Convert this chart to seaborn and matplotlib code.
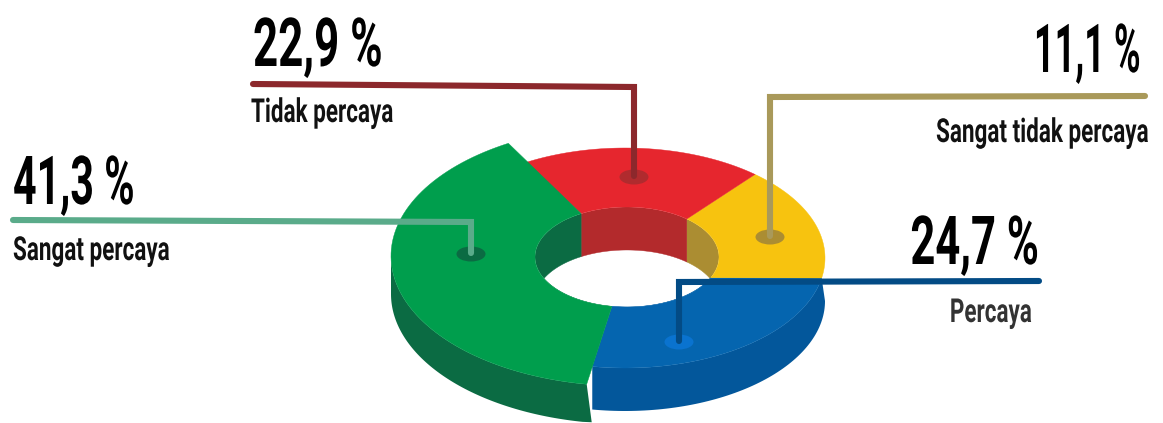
"""Exploded 3D donut: trust shares with leader lines."""

import matplotlib

matplotlib.use("agg")
import matplotlib.patheffects as pe
import matplotlib.pyplot as plt
import numpy as np
import pandas as pd
import seaborn as sns
from matplotlib.patches import Ellipse, Polygon
from matplotlib.transforms import Affine2D

# counter-clockwise from the yellow/blue seam
CATEGORIES = ["Sangat tidak percaya", "Tidak percaya", "Sangat percaya", "Percaya"]
SHARES = [11.1, 22.9, 41.3, 24.7]
VALUE_LABELS = ["11,1 %", "22,9 %", "41,3 %", "24,7 %"]

TOP_COLORS = ["#f7c30f", "#e6262e", "#009e4d", "#0565af"]
WALL_COLORS = ["#ab8d32", "#b32a2c", "#0b6b43", "#03579b"]
LINE_COLORS = ["#a9995a", "#8c282c", "#5aab8a", "#034b85"]
DOT_COLORS = ["#ab8d32", "#b02b2e", "#0b6b43", "#0a73cf"]

# the artwork's hand-drawn seams, in degrees off the true share angle
OUTER_NUDGE = [0, 20, 8, 0, 0]
INNER_NUDGE = [-14, 20, 8, 0, -14]
START_ANGLE = -10.5

OUTER = (625, 258, 200, 110)
GREEN_OUTER = (625, 256, 234, 130)
INNER = (627, 257, 92, 50)
DEPTH = 43
GREEN_DEPTH = 38

# leader polylines and where the labels go, same order as CATEGORIES
LEADER_X = [[1145, 770, 770], [253, 634, 634], [13, 471, 471], [1039, 679, 679]]
LEADER_Y = [[96, 97, 236], [84, 87, 176], [220, 222, 253], [281, 282, 341]]
VALUE_POS = [(1142, 72), (253, 66), (13, 204), (1040, 264)]
VALUE_HA = ["right", "left", "left", "right"]
VALUE_SQUEEZE = [0.535, 0.65, 0.61, 0.645]
LABEL_POS = [(1148, 142), (251, 122), (13, 260), (1032, 322)]
LABEL_HA = ["right", "left", "left", "right"]
LABEL_COLORS = ["#111111", "#111111", "#111111", "#333333"]


class Squeeze(pe.AbstractPathEffect):
    """Condense glyphs sideways, no ultra-condensed font is installed."""

    def __init__(self, sx, ha="left"):
        super().__init__()
        self.sx = sx
        self.ha = ha

    def draw_path(self, renderer, gc, tpath, affine, rgbFace=None):
        pivot = tpath.get_extents().x1 if self.ha == "right" else 0
        squeeze = Affine2D().translate(-pivot, 0).scale(self.sx, 1).translate(pivot, 0)
        renderer.draw_path(gc, tpath, squeeze + affine, rgbFace)


def arc(ellipse, start, stop, n=80):
    cx, cy, rx, ry = ellipse
    t = np.radians(np.linspace(start, stop, n))
    return np.column_stack([cx + rx * np.cos(t), cy - ry * np.sin(t)])


def main():
    sns.set_theme(style="white")
    plt.rcParams["font.family"] = ["Roboto", "DejaVu Sans"]

    fig = plt.figure(figsize=(11.63, 4.23), dpi=100)
    ax = fig.add_axes([0, 0, 1, 1])
    ax.set_xlim(0, 1163)
    ax.set_ylim(423, 0)
    ax.axis("off")

    cum = np.concatenate([[0], np.cumsum(SHARES)]) * 3.6 + START_ANGLE
    outer_deg = cum + np.array(OUTER_NUDGE)
    inner_deg = cum + np.array(INNER_NUDGE)

    # outer walls: only green and blue face the viewer
    green_b = outer_deg[3]
    top = arc(GREEN_OUTER, 180, green_b)
    low = top + [0, GREEN_DEPTH]
    low[-1, 0] += 5
    blue_top = arc(OUTER, green_b, outer_deg[4])
    blue_low = arc(OUTER, green_b, 360) + [0, DEPTH]
    ax.add_patch(Polygon(np.vstack([blue_top, blue_low[::-1]]), fc=WALL_COLORS[3], ec="none", zorder=1))
    ax.add_patch(Polygon(np.vstack([top, low[::-1]]), fc=WALL_COLORS[2], ec="none", zorder=2))

    # inner walls, clipped to the hole
    hole = Ellipse(INNER[:2], INNER[2] * 2, INNER[3] * 2, fc="none", ec="none")
    ax.add_patch(hole)
    for i in range(4):
        rim = arc(INNER, inner_deg[i], inner_deg[i + 1])
        wall = Polygon(np.vstack([rim, (rim + [0, DEPTH])[::-1]]), fc=WALL_COLORS[i], ec=WALL_COLORS[i], lw=0.3, zorder=2)
        ax.add_patch(wall)
        wall.set_clip_path(hole)

    # top faces, green last because it is pulled out over the others
    for i in [3, 0, 1, 2]:
        ring = GREEN_OUTER if i == 2 else OUTER
        pts = np.vstack([arc(ring, outer_deg[i], outer_deg[i + 1]), arc(INNER, inner_deg[i + 1], inner_deg[i])])
        ax.add_patch(Polygon(pts, fc=TOP_COLORS[i], ec=TOP_COLORS[i], lw=0.3, zorder=3))

    for i in range(4):
        ax.add_patch(Ellipse((LEADER_X[i][-1], LEADER_Y[i][-1] + 1), 29, 15, fc=DOT_COLORS[i], ec="none", zorder=4))
        leader = pd.DataFrame({"x": LEADER_X[i], "y": LEADER_Y[i]})
        sns.lineplot(
            data=leader, x="x", y="y", sort=False, estimator=None, color=LINE_COLORS[i],
            linewidth=4.4, solid_capstyle="round", solid_joinstyle="miter", legend=False, ax=ax, zorder=5,
        )
        ax.text(*VALUE_POS[i], VALUE_LABELS[i], fontsize=48.6, fontweight="bold", color="black", ha=VALUE_HA[i], va="baseline",
                path_effects=[Squeeze(VALUE_SQUEEZE[i], VALUE_HA[i])], zorder=6)
        ax.text(*LABEL_POS[i], CATEGORIES[i], fontsize=23.8, fontweight="bold", color=LABEL_COLORS[i], ha=LABEL_HA[i], va="baseline",
                path_effects=[Squeeze(0.68, LABEL_HA[i])], zorder=6)

    ax.set_xlim(0, 1163)
    ax.set_ylim(423, 0)
    ax.set_xlabel("")
    ax.set_ylabel("")
    fig.savefig("out.png", dpi=100, facecolor="white")
    plt.close(fig)


if __name__ == "__main__":
    main()
